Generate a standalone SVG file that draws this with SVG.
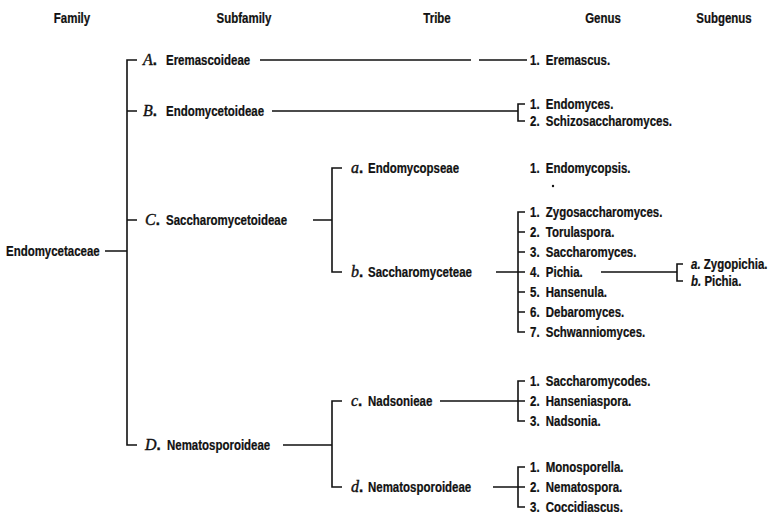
<svg xmlns="http://www.w3.org/2000/svg" width="772" height="516" viewBox="0 0 772 516">
<style>
text{font-family:"Liberation Sans",Arial,sans-serif;font-weight:bold;font-size:15px;fill:#111;stroke:#111;stroke-width:.25}
.h{text-anchor:middle}
.L{font-family:"Liberation Serif","Times New Roman",serif;font-style:italic;font-weight:normal;font-size:16px;stroke-width:.4}
.pd{font-family:"Liberation Sans",Arial,sans-serif;font-style:normal;font-weight:bold;font-size:15px}
.s{font-style:italic}
#connectors path{fill:none;stroke:#111;stroke-width:1.6}
</style>
<rect width="772" height="516" fill="#fff"/>
<g id="headers">
<text class="h" transform="translate(72,23) scale(.765,1)">Family</text>
<text class="h" transform="translate(244,23) scale(.765,1)">Subfamily</text>
<text class="h" transform="translate(437,23) scale(.765,1)">Tribe</text>
<text class="h" transform="translate(603,23) scale(.765,1)">Genus</text>
<text class="h" transform="translate(724,23) scale(.765,1)">Subgenus</text>
</g>
<g id="connectors">
<path d="M137,60H127V445H137M127,111H137M127,220H137M105,251H127"/>
<path d="M260,60H471M479,60H527"/>
<path d="M272,111H518M525,104H518V121H525"/>
<path d="M313,220H332M342,168H332V272H342"/>
<path d="M496,272H518M525,212H518V332H525M518,232H525M518,252H525M518,272H525M518,292H525M518,312H525"/>
<path d="M601,272H677M683,264H677V281H683"/>
<path d="M283,445H332M342,401H332V487H342"/>
<path d="M440,401H518M525,381H518V421H525M518,401H525"/>
<path d="M493,487H518M525,467H518V507H525M518,487H525"/>
</g>
<g id="family"><text transform="translate(6,256) scale(.765,1)">Endomycetaceae</text></g>
<g id="subfamily-A"><text class="L" x="143" y="65">A<tspan class="pd">.</tspan></text><text transform="translate(166,65) scale(.765,1)">Eremascoideae</text></g>
<g id="subfamily-B"><text class="L" x="143" y="116">B<tspan class="pd">.</tspan></text><text transform="translate(166,116) scale(.765,1)">Endomycetoideae</text></g>
<g id="subfamily-C"><text class="L" x="145" y="225">C<tspan class="pd">.</tspan></text><text transform="translate(166,225) scale(.765,1)">Saccharomycetoideae</text></g>
<g id="subfamily-D"><text class="L" x="145" y="450">D<tspan class="pd">.</tspan></text><text transform="translate(167,450) scale(.765,1)">Nematosporoideae</text></g>
<g id="tribe-a"><text class="L" x="351" y="173">a<tspan class="pd">.</tspan></text><text transform="translate(368,173) scale(.765,1)">Endomycopseae</text></g>
<g id="tribe-b"><text class="L" x="351" y="277">b<tspan class="pd">.</tspan></text><text transform="translate(368,277) scale(.765,1)">Saccharomyceteae</text></g>
<g id="tribe-c"><text class="L" x="351" y="406">c<tspan class="pd">.</tspan></text><text transform="translate(368,406) scale(.765,1)">Nadsonieae</text></g>
<g id="tribe-d"><text class="L" x="351" y="492">d<tspan class="pd">.</tspan></text><text transform="translate(368,492) scale(.765,1)">Nematosporoideae</text></g>
<g id="genus-eremascus"><text transform="translate(530,65) scale(.765,1)">1.<tspan dx="4"> Eremascus.</tspan></text></g>
<g id="genera-B">
<text transform="translate(530,109) scale(.765,1)">1.<tspan dx="4"> Endomyces.</tspan></text>
<text transform="translate(530,126) scale(.765,1)">2.<tspan dx="4"> Schizosaccharomyces.</tspan></text>
</g>
<g id="genus-endomycopsis"><text transform="translate(530,173) scale(.765,1)">1.<tspan dx="4"> Endomycopsis.</tspan></text><circle cx="553" cy="186" r="1.2" fill="#111"/></g>
<g id="genera-b">
<text transform="translate(530,217) scale(.765,1)">1.<tspan dx="4"> Zygosaccharomyces.</tspan></text>
<text transform="translate(530,237) scale(.765,1)">2.<tspan dx="4"> Torulaspora.</tspan></text>
<text transform="translate(530,257) scale(.765,1)">3.<tspan dx="4"> Saccharomyces.</tspan></text>
<text transform="translate(530,277) scale(.765,1)">4.<tspan dx="4"> Pichia.</tspan></text>
<text transform="translate(530,297) scale(.765,1)">5.<tspan dx="4"> Hansenula.</tspan></text>
<text transform="translate(530,317) scale(.765,1)">6.<tspan dx="4"> Debaromyces.</tspan></text>
<text transform="translate(530,337) scale(.765,1)">7.<tspan dx="4"> Schwanniomyces.</tspan></text>
</g>
<g id="subgenera">
<text transform="translate(691,269) scale(.765,1)"><tspan class="s">a.</tspan> Zygopichia.</text>
<text transform="translate(691,286) scale(.765,1)"><tspan class="s">b.</tspan> Pichia.</text>
</g>
<g id="genera-c">
<text transform="translate(530,386) scale(.765,1)">1.<tspan dx="4"> Saccharomycodes.</tspan></text>
<text transform="translate(530,406) scale(.765,1)">2.<tspan dx="4"> Hanseniaspora.</tspan></text>
<text transform="translate(530,426) scale(.765,1)">3.<tspan dx="4"> Nadsonia.</tspan></text>
</g>
<g id="genera-d">
<text transform="translate(530,472) scale(.765,1)">1.<tspan dx="4"> Monosporella.</tspan></text>
<text transform="translate(530,492) scale(.765,1)">2.<tspan dx="4"> Nematospora.</tspan></text>
<text transform="translate(530,512) scale(.765,1)">3.<tspan dx="4"> Coccidiascus.</tspan></text>
</g>
</svg>
